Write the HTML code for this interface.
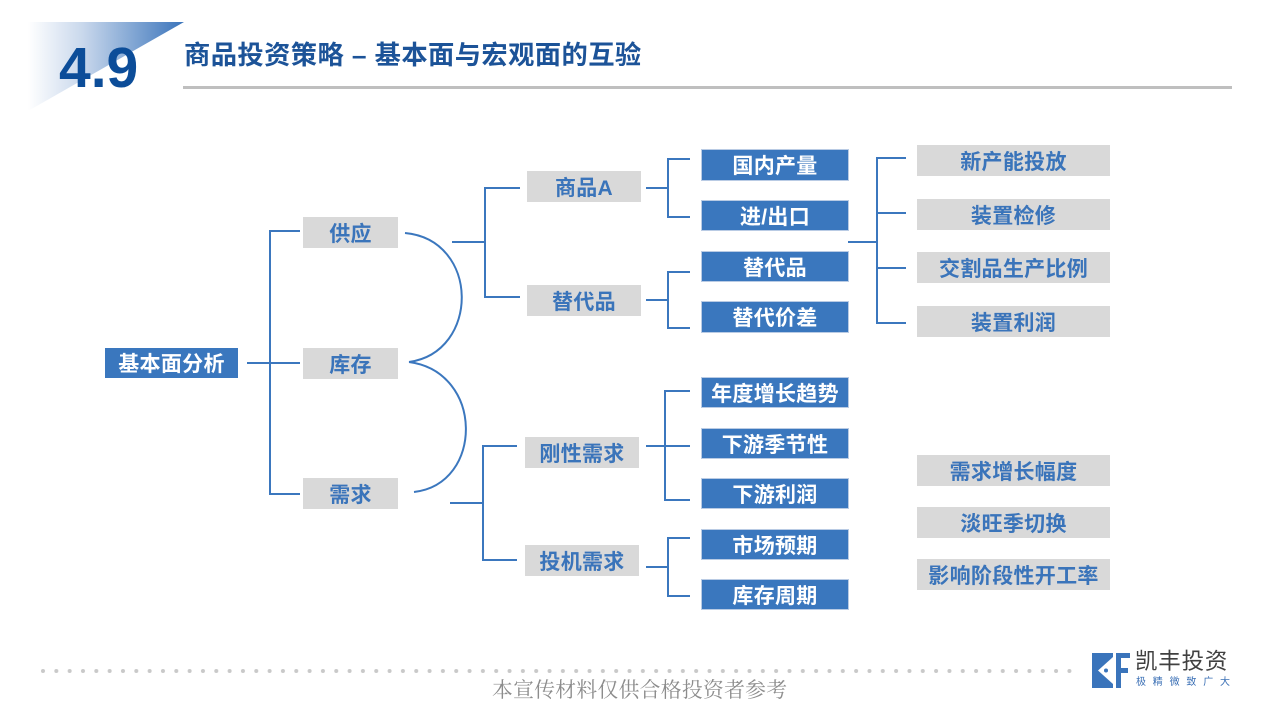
<!DOCTYPE html>
<html><head><meta charset="utf-8">
<style>
*{margin:0;padding:0;box-sizing:border-box}
html,body{width:1280px;height:720px;background:#fff;overflow:hidden}
body{position:relative;font-family:"Liberation Sans","Noto Sans CJK SC",sans-serif}
.b{position:absolute;display:flex;align-items:center;justify-content:center;font-weight:bold;font-size:21px;white-space:nowrap;letter-spacing:0.3px}
.g{background:#d9d9d9;color:#3a74ba}
.u{background:#3a77be;color:#fff;border:1px solid #b9cbe4}
#title{position:absolute;left:184px;top:40px;font-size:26.3px;line-height:30px;font-weight:bold;color:#1c5398;white-space:nowrap;letter-spacing:0.4px}
#foot{position:absolute;left:492px;top:678px;font-family:"Liberation Serif","Noto Serif CJK SC",serif;font-size:20.8px;line-height:26px;color:#8c8c8c;white-space:nowrap;letter-spacing:0.3px}
#logo1{position:absolute;left:1135px;top:650px;font-size:22.5px;line-height:24px;color:#404040;white-space:nowrap;letter-spacing:0.8px}
#logo2{position:absolute;left:1136px;top:677px;font-size:10px;line-height:12px;color:#3a6fb5;white-space:nowrap;letter-spacing:6.8px}
</style></head><body>
<svg width="1280" height="720" style="position:absolute;left:0;top:0">
<defs>
<linearGradient id="tg" x1="28" y1="0" x2="184" y2="0" gradientUnits="userSpaceOnUse">
<stop offset="0" stop-color="#ffffff"/>
<stop offset="0.35" stop-color="#c9d8ec"/>
<stop offset="1" stop-color="#3a74bb"/>
</linearGradient>
<pattern id="dp" x="41" y="668" width="13.33" height="6" patternUnits="userSpaceOnUse">
<circle cx="2" cy="3" r="2" fill="#c9c9c9"/>
</pattern>
</defs>
<polygon points="28,22 184,22 28,111" fill="url(#tg)"/>
<text x="59" y="87" font-family="Liberation Sans, sans-serif" font-size="57" font-weight="bold" fill="#0c4d99">4.9</text>
<rect x="183" y="86" width="1049" height="3" fill="#bfbfbf"/>
<rect x="41" y="668" width="1038" height="6" fill="url(#dp)"/>
<g fill="none" stroke="#3b77be" stroke-width="2">
<path d="M247,363 H300"/>
<path d="M300,231 H270 V494 H300"/>
<path d="M405,233 C480,240 480,352 409,362"/>
<path d="M409,362 C484,372 484,484 414,492"/>
<path d="M452,242 H485"/>
<path d="M520,188 H485 V297 H520"/>
<path d="M646,188 H668"/>
<path d="M690,159 H668 V217 H690"/>
<path d="M646,300 H668"/>
<path d="M690,272 H668 V328 H690"/>
<path d="M848,242 H877"/>
<path d="M906,158 H877 V323 H906"/>
<path d="M877,213 H906"/>
<path d="M877,268 H906"/>
<path d="M450,503 H483"/>
<path d="M517,446 H483 V560 H517"/>
<path d="M646,446 H690"/>
<path d="M690,391 H665 V500 H690"/>
<path d="M646,567 H668"/>
<path d="M690,538 H668 V596 H690"/>
</g>
<!-- logo icon -->
<rect x="1092" y="653" width="21" height="35" fill="#3a74bb"/>
<polygon points="1113,657 1098,670.5 1113,684" fill="#fff"/>
<circle cx="1106" cy="670.5" r="2" fill="#3a74bb"/>
<rect x="1116" y="653" width="5" height="35" fill="#3a74bb"/>
<rect x="1116" y="653" width="14" height="5" fill="#3a74bb"/>
<rect x="1116" y="668" width="12" height="5" fill="#3a74bb"/>
</svg>

<div id="title">商品投资策略 – 基本面与宏观面的互验</div>

<div class="b u" style="left:105px;top:348px;width:133px;height:30px;border:none">基本面分析</div>
<div class="b g" style="left:303px;top:217px;width:95px;height:31px">供应</div>
<div class="b g" style="left:303px;top:348px;width:95px;height:31px">库存</div>
<div class="b g" style="left:303px;top:478px;width:95px;height:31px">需求</div>

<div class="b g" style="left:527px;top:171px;width:114px;height:31px">商品A</div>
<div class="b g" style="left:527px;top:285px;width:114px;height:31px">替代品</div>
<div class="b g" style="left:525px;top:437px;width:114px;height:31px">刚性需求</div>
<div class="b g" style="left:525px;top:545px;width:114px;height:31px">投机需求</div>

<div class="b u" style="left:701px;top:149px;width:148px;height:32px">国内产量</div>
<div class="b u" style="left:701px;top:200px;width:148px;height:31px">进/出口</div>
<div class="b u" style="left:701px;top:251px;width:148px;height:31px">替代品</div>
<div class="b u" style="left:701px;top:301px;width:148px;height:32px">替代价差</div>
<div class="b u" style="left:701px;top:377px;width:148px;height:31px">年度增长趋势</div>
<div class="b u" style="left:701px;top:428px;width:148px;height:31px">下游季节性</div>
<div class="b u" style="left:701px;top:478px;width:148px;height:31px">下游利润</div>
<div class="b u" style="left:701px;top:529px;width:148px;height:31px">市场预期</div>
<div class="b u" style="left:701px;top:579px;width:148px;height:31px">库存周期</div>

<div class="b g" style="left:917px;top:145px;width:193px;height:31px">新产能投放</div>
<div class="b g" style="left:917px;top:199px;width:193px;height:31px">装置检修</div>
<div class="b g" style="left:917px;top:252px;width:193px;height:31px">交割品生产比例</div>
<div class="b g" style="left:917px;top:306px;width:193px;height:31px">装置利润</div>
<div class="b g" style="left:917px;top:455px;width:193px;height:31px">需求增长幅度</div>
<div class="b g" style="left:917px;top:507px;width:193px;height:31px">淡旺季切换</div>
<div class="b g" style="left:917px;top:559px;width:193px;height:31px">影响阶段性开工率</div>

<div id="foot">本宣传材料仅供合格投资者参考</div>
<div id="logo1">凯丰投资</div>
<div id="logo2">极精微致广大</div>
</body></html>
